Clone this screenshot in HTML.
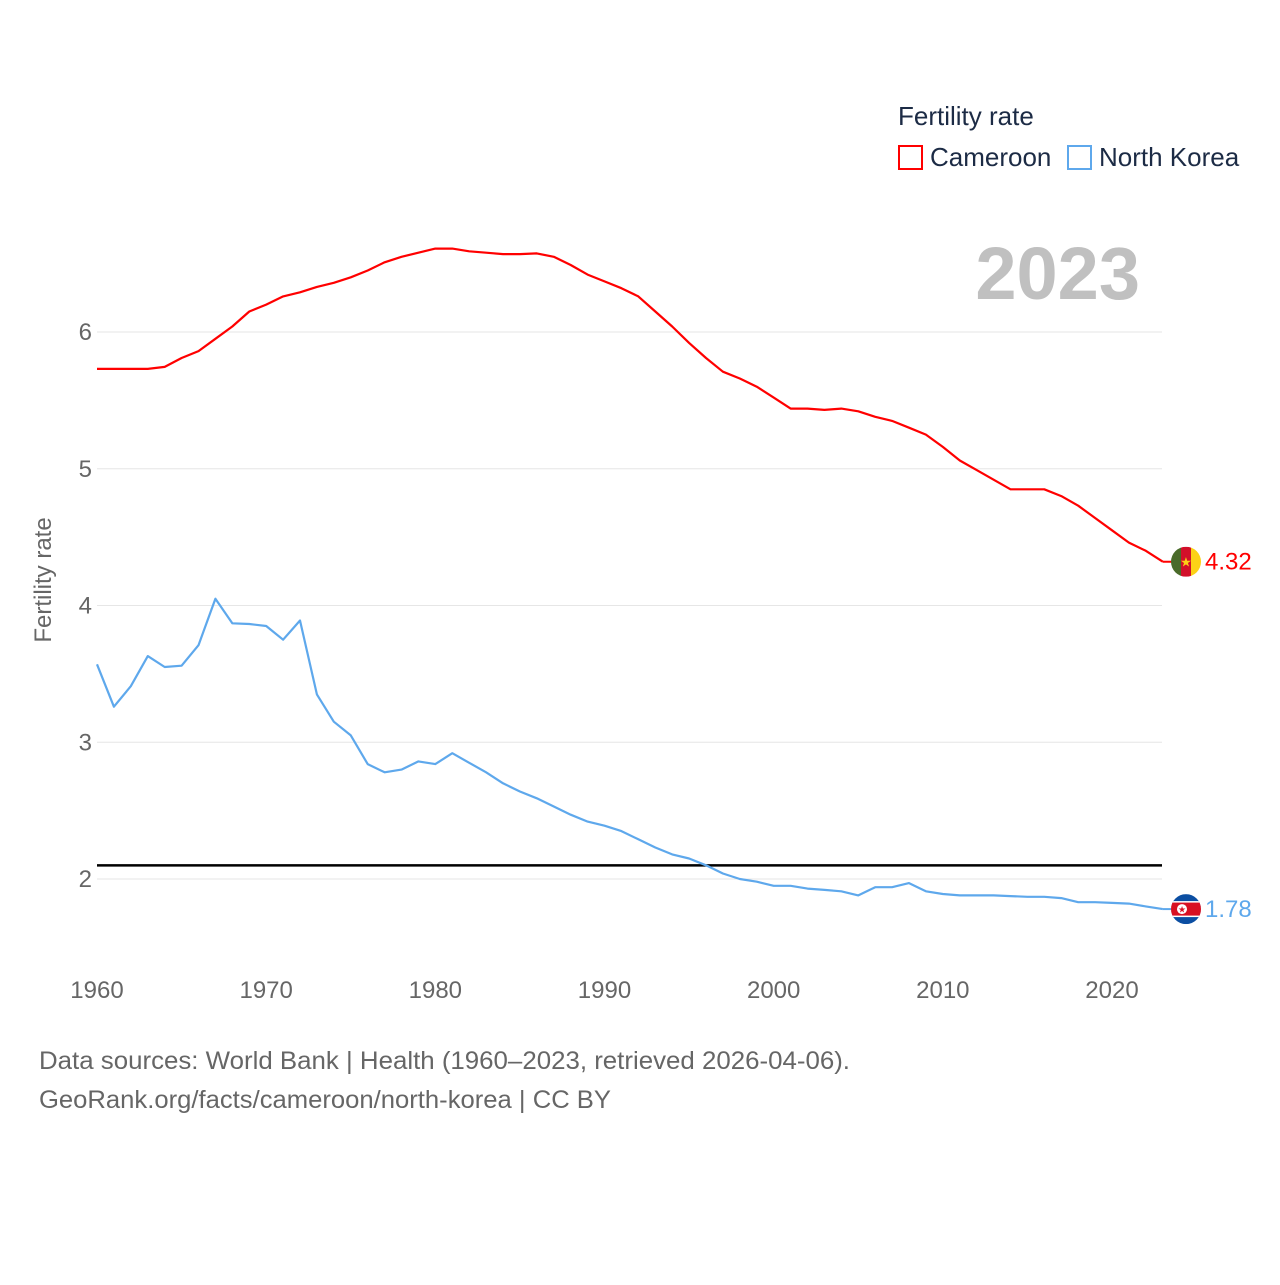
<!DOCTYPE html>
<html><head><meta charset="utf-8">
<style>
html,body{margin:0;padding:0;background:#fff;}
body{width:1280px;height:1280px;overflow:hidden;font-family:"Liberation Sans",sans-serif;}
svg text{font-family:"Liberation Sans",sans-serif;}
</style></head>
<body>
<svg id="chart" width="1280" height="1280" viewBox="0 0 1280 1280" xmlns="http://www.w3.org/2000/svg">
  <text x="898" y="125" font-size="26" fill="#1c2b45">Fertility rate</text>
  <rect x="899" y="146" width="23" height="23" fill="none" stroke="#ff0000" stroke-width="2"/>
  <text x="930" y="166" font-size="26" fill="#1c2b45">Cameroon</text>
  <rect x="1068" y="146" width="23" height="23" fill="none" stroke="#5ea8ec" stroke-width="2"/>
  <text x="1099" y="166" font-size="26" fill="#1c2b45">North Korea</text>
  <text x="1140" y="299" font-size="74" font-weight="bold" fill="#c0c0c0" text-anchor="end">2023</text>
  <text transform="translate(51,580) rotate(-90)" font-size="24" fill="#666" text-anchor="middle">Fertility rate</text>
  <g id="grid"></g>
  <g id="xticks"></g>
  <line id="refline" x1="97" x2="1162" stroke="#000" stroke-width="2.5"/>
  <g id="series"></g>
  <g id="flagCM"></g>
  <g id="flagKP"></g>
  <text x="39" y="1069" font-size="25" fill="#666" textLength="811" lengthAdjust="spacingAndGlyphs">Data sources: World Bank | Health (1960–2023, retrieved 2026-04-06).</text>
  <text x="39" y="1108" font-size="25" fill="#666" textLength="572" lengthAdjust="spacingAndGlyphs">GeoRank.org/facts/cameroon/north-korea | CC BY</text>
</svg>
<script>
const years = [];
for (let y = 1960; y <= 2023; y++) years.push(y);
const cameroon = [5.73,5.73,5.73,5.73,5.745,5.81,5.86,5.95,6.04,6.15,6.2,6.26,6.29,6.33,6.36,6.40,6.45,6.51,6.55,6.58,6.61,6.61,6.59,6.58,6.57,6.57,6.575,6.55,6.49,6.42,6.37,6.32,6.26,6.15,6.04,5.92,5.81,5.71,5.66,5.6,5.52,5.44,5.44,5.43,5.44,5.42,5.38,5.35,5.30,5.25,5.16,5.06,4.99,4.92,4.85,4.85,4.85,4.80,4.73,4.64,4.55,4.46,4.40,4.32];
const northKorea = [3.57,3.26,3.41,3.63,3.55,3.56,3.71,4.05,3.87,3.865,3.85,3.75,3.89,3.35,3.15,3.05,2.84,2.78,2.80,2.86,2.84,2.92,2.85,2.78,2.70,2.64,2.59,2.53,2.47,2.42,2.39,2.35,2.29,2.23,2.18,2.15,2.10,2.04,2.0,1.98,1.95,1.95,1.93,1.92,1.91,1.88,1.94,1.94,1.97,1.91,1.89,1.88,1.88,1.88,1.875,1.87,1.87,1.86,1.83,1.83,1.825,1.82,1.80,1.78];
const yTicks = [2,3,4,5,6];
const xTicks = [1960,1970,1980,1990,2000,2010,2020];
const replacementRate = 2.1;

const NS = "http://www.w3.org/2000/svg";
const xS = v => 97 + (v - 1960) * (1112 - 97) / 60;
const yS = v => 879 - (v - 2) * 136.75;
function mk(tag, attrs, parent){const e=document.createElementNS(NS,tag);for(const k in attrs)e.setAttribute(k,attrs[k]);parent.appendChild(e);return e;}

const grid = document.getElementById('grid');
yTicks.forEach(t=>{
  const l = mk('line',{x1:97,x2:1162,y1:yS(t),y2:yS(t),stroke:'#e6e6e6','stroke-width':1},grid);
  
  
  const tx = mk('text',{x:92,y:yS(t)+8,'font-size':24,fill:'#666','text-anchor':'end'},grid);
  tx.textContent = t;
  
  
});
const xt = document.getElementById('xticks');
xTicks.forEach(t=>{
  const tx = mk('text',{x:xS(t),y:998,'font-size':24,fill:'#666','text-anchor':'middle'},xt);
  tx.textContent = t;
  
  
});
const rl = document.getElementById('refline');
rl.setAttribute('y1', yS(replacementRate));
rl.setAttribute('y2', yS(replacementRate));

const sg = document.getElementById('series');
function drawSeries(vals,color,name){
  const d = vals.map((v,i)=>(i?'L':'M')+xS(years[i]).toFixed(1)+','+yS(v).toFixed(1)).join(' ');
  const p = mk('path',{d:d,fill:'none',stroke:color,'stroke-width':2.2,'stroke-linejoin':'round'},sg);
  
  
  const last = vals[vals.length-1];
  const lx = xS(years[years.length-1]), ly = yS(last);
  const c = mk('line',{x1:lx,x2:lx+10,y1:ly,y2:ly,stroke:color,'stroke-width':2},sg);
  
  
  const t = mk('text',{x:1205,y:ly+8,'font-size':24,fill:color},sg);
  t.textContent = last.toFixed(2);
  
  
  return ly;
}
const cy1 = drawSeries(cameroon,'#ff0000','cameroon');
const cy2 = drawSeries(northKorea,'#5ea8ec','north-korea');

(function(){
  const g = document.getElementById('flagCM'), cx=1186, cy=cy1, r=15;
  const cp = mk('clipPath',{id:'cpcm'},g); mk('circle',{cx:cx,cy:cy,r:r},cp);
  const gg = mk('g',{'clip-path':'url(#cpcm)'},g);
  mk('rect',{x:cx-r,y:cy-r,width:10,height:30,fill:'#4a6b2a'},gg);
  mk('rect',{x:cx-5,y:cy-r,width:10,height:30,fill:'#d2102a'},gg);
  mk('rect',{x:cx+5,y:cy-r,width:10,height:30,fill:'#fcd116'},gg);
  const s = mk('text',{x:cx,y:cy+5,'font-size':13,fill:'#fcd116','text-anchor':'middle'},g); s.textContent='★';
})();
(function(){
  const g = document.getElementById('flagKP'), cx=1186, cy=cy2, r=15;
  const cp = mk('clipPath',{id:'cpkp'},g); mk('circle',{cx:cx,cy:cy,r:r},cp);
  const gg = mk('g',{'clip-path':'url(#cpkp)'},g);
  mk('rect',{x:cx-r,y:cy-r,width:30,height:30,fill:'#0b4ea2'},gg);
  mk('rect',{x:cx-r,y:cy-8,width:30,height:16,fill:'#fff'},gg);
  mk('rect',{x:cx-r,y:cy-6.5,width:30,height:13,fill:'#d81022'},gg);
  mk('circle',{cx:cx-4,cy:cy,r:5,fill:'#fff'},gg);
  const s = mk('text',{x:cx-4,y:cy+3.5,'font-size':9,fill:'#d81022','text-anchor':'middle'},g); s.textContent='★';
})();
</script>
</body></html>
